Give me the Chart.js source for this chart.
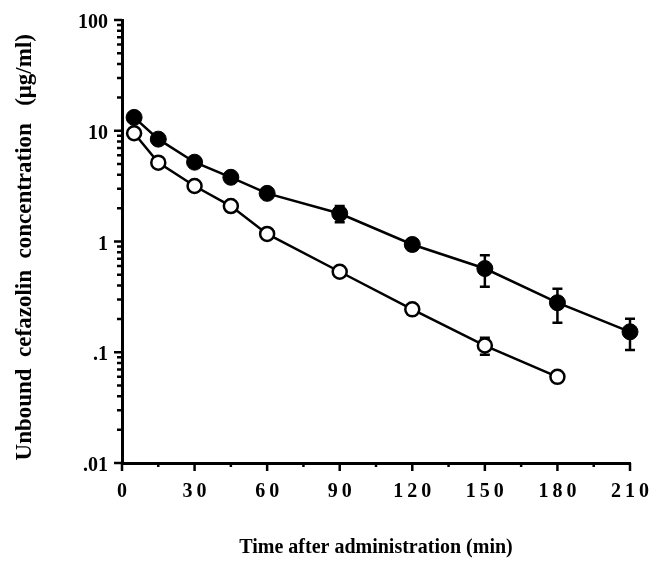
<!DOCTYPE html>
<html>
<head>
<meta charset="utf-8">
<script src="https://cdn.jsdelivr.net/npm/chart.js"></script>
<style>
  html, body { margin: 0; padding: 0; background: #fff; }
  #wrap { width: 664px; height: 566px; }
</style>
</head>
<body>
<div id="wrap"><canvas id="cefChart"></canvas></div>
<script>
// время отбора проб (мин)
const times = [5, 15, 30, 45, 60, 90, 120, 150, 180, 210];

// закрашенные кружки
const filledConc = [13.2, 8.4, 5.2, 3.8, 2.72, 1.79, 0.94, 0.57, 0.28, 0.153];
const filledSd = [0, 0, 0, 0, 0, 0.3, 0.1, 0.18, 0.095, 0.048];

// пустые кружки
const openConc = [9.5, 5.15, 3.17, 2.09, 1.17, 0.533, 0.244, 0.115, 0.060];
const openSd = [0, 0, 0, 0, 0, 0, 0, 0.02, 0];

// подписи осей
const yTickValues = [0.01, 0.1, 1, 10, 100];
const yTickLabels = ['.01', '.1', '1', '10', '100'];
const xMinorTicks = [15, 45, 75, 105, 135, 165, 195];

const serif = "'Liberation Serif', 'Times New Roman', serif";

const points = (xs, ys) => ys.map((v, i) => ({ x: xs[i], y: v }));

// планки погрешностей (рисуются до точек, чтобы кружки их перекрывали)
const errorBars = {
  id: 'errorBars',
  beforeDatasetsDraw(chart) {
    const { ctx, scales: { x, y } } = chart;
    ctx.save();
    ctx.strokeStyle = '#000';
    ctx.lineWidth = 2.5;
    chart.data.datasets.forEach(ds => {
      ds.errors.forEach((s, i) => {
        if (!s) return;
        const p = ds.data[i];
        const px = x.getPixelForValue(p.x);
        const top = y.getPixelForValue(p.y + s);
        const bot = y.getPixelForValue(p.y - s);
        ctx.beginPath();
        ctx.moveTo(px, top); ctx.lineTo(px, bot);
        ctx.moveTo(px - 5, top); ctx.lineTo(px + 5, top);
        ctx.moveTo(px - 5, bot); ctx.lineTo(px + 5, bot);
        ctx.stroke();
      });
    });
    ctx.restore();
  }
};

// засечки наружу: большие и малые
const axisTicks = {
  id: 'axisTicks',
  afterDraw(chart) {
    const { ctx, scales: { x, y } } = chart;
    ctx.save();
    ctx.strokeStyle = '#000';
    ctx.lineWidth = 2.5;
    const left = x.left;
    const bottom = y.bottom;
    ctx.beginPath();
    for (let d = -2; d <= 1; d++) {
      for (let m = 1; m <= 9; m++) {
        const py = y.getPixelForValue(m * Math.pow(10, d));
        ctx.moveTo(left, py);
        ctx.lineTo(left - (m === 1 ? 8 : 5), py);
      }
    }
    const pTop = y.getPixelForValue(100);
    ctx.moveTo(left, pTop); ctx.lineTo(left - 8, pTop);
    for (let t = 0; t <= 210; t += 30) {
      const px = x.getPixelForValue(t);
      ctx.moveTo(px, bottom); ctx.lineTo(px, bottom + 8);
    }
    xMinorTicks.forEach(t => {
      const px = x.getPixelForValue(t);
      ctx.moveTo(px, bottom); ctx.lineTo(px, bottom + 4);
    });
    ctx.stroke();
    ctx.restore();
  }
};

const ctx = document.querySelector('#cefChart').getContext('2d');

const myChart = new Chart(ctx, {
  type: 'line',
  data: {
    datasets: [
      {
        data: points(times, filledConc),
        errors: filledSd,
        borderColor: '#000',
        borderWidth: 2.5,
        backgroundColor: '#000',
        pointRadius: 8,
        pointBorderWidth: 1,
        pointBackgroundColor: '#000',
        pointBorderColor: '#000',
        tension: 0,
        clip: false,
      },
      {
        data: points(times, openConc),
        errors: openSd,
        borderColor: '#000',
        borderWidth: 2.5,
        backgroundColor: '#fff',
        pointRadius: 7,
        pointBorderWidth: 2.5,
        pointBackgroundColor: '#fff',
        pointBorderColor: '#000',
        tension: 0,
        clip: false,
      },
    ]
  },
  options: {
    responsive: true,
    maintainAspectRatio: false,
    animation: false,
    events: [],
    layout: { padding: { left: 0, right: 34, top: 20, bottom: 0 } },
    plugins: {
      legend: { display: false },
      tooltip: { enabled: false },
    },
    scales: {
      x: {
        type: 'linear',
        min: 0,
        max: 210,
        grid: { display: false },
        border: { display: true, color: '#000', width: 3 },
        ticks: {
          stepSize: 30,
          autoSkip: false,
          maxRotation: 0,
          padding: 9,
          color: '#000',
          font: { family: serif, size: 20, weight: 'bold' },
          callback: v => String(v).split('').join('\u2009'),
        },
        title: {
          display: true,
          text: 'Time after administration (min)',
          color: '#000',
          font: { family: serif, size: 20, weight: 'bold' },
          padding: { top: 0, bottom: 6 },
        },
        afterFit: s => { s.height = 103; },
      },
      y: {
        type: 'logarithmic',
        min: 0.01,
        max: 100,
        grid: { display: false },
        border: { display: true, color: '#000', width: 3 },
        afterBuildTicks: s => { s.ticks = yTickValues.map(v => ({ value: v })); },
        ticks: {
          autoSkip: false,
          padding: 6,
          labelOffset: 3,
          color: '#000',
          font: { family: serif, size: 20, weight: 'bold' },
          callback: (v, i) => yTickLabels[i],
        },
        title: {
          display: true,
          text: 'Unbound  cefazolin  concentration   (μg/ml)  ',
          color: '#000',
          font: { family: serif, size: 23, weight: 'bold' },
          padding: { top: 11, bottom: 0 },
        },
        afterFit: s => { s.width = 122; },
      },
    },
  },
  plugins: [errorBars, axisTicks],
});
</script>
</body>
</html>
